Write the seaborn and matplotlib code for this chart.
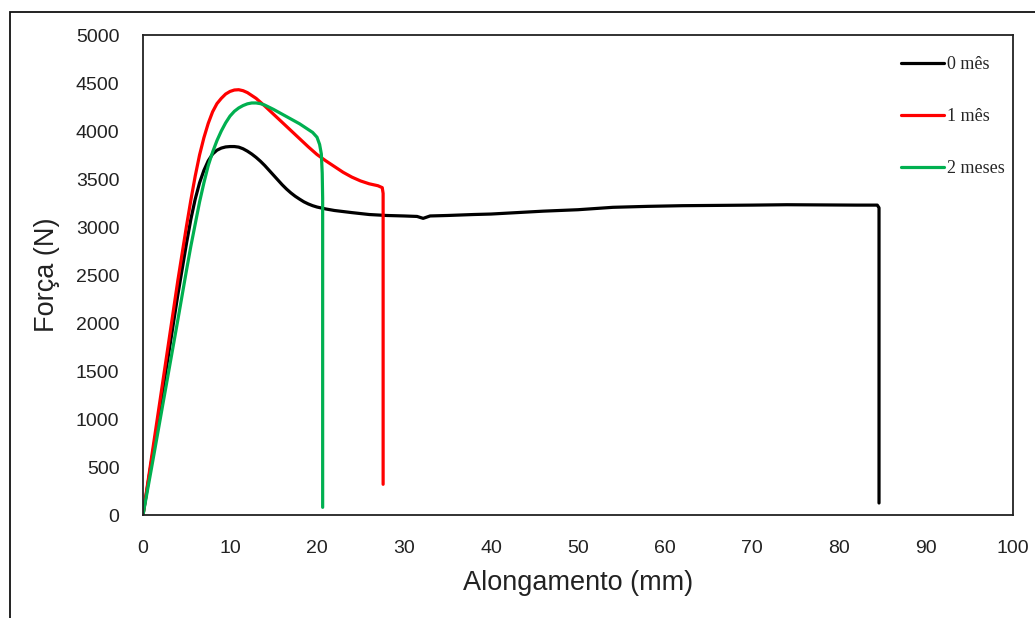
import numpy as np
import pandas as pd
import matplotlib
matplotlib.use("Agg")
import matplotlib.pyplot as plt
from matplotlib.patches import Rectangle
import seaborn as sns

# ---- data ----
labels = ["0 mês", "1 mês", "2 meses"]
colors = ["#000000", "#FF0000", "#00B050"]

x0 = [0, 1, 2, 3, 4, 5, 5.5, 6, 6.5, 7, 7.5, 8, 8.5, 9, 9.5, 10, 10.5, 11, 11.5, 12, 12.5,
      13, 13.5, 14, 14.5, 15, 15.5, 16, 16.5, 17, 17.5, 18, 18.5, 19, 19.5, 20, 21, 22,
      24, 26, 28, 30, 31.5, 32.2, 33, 35, 38, 40, 43, 46, 50, 54, 58, 62, 66, 70, 74,
      78, 82, 84.4, 84.6, 84.6]
y0 = [0, 570, 1140, 1710, 2290, 2830, 3080, 3290, 3460, 3590, 3690, 3760, 3800, 3822, 3834,
      3838, 3838, 3832, 3815, 3790, 3760, 3725, 3685, 3640, 3590, 3540, 3490, 3440, 3395,
      3355, 3320, 3290, 3262, 3240, 3222, 3208, 3188, 3172, 3150, 3130, 3120, 3115, 3110,
      3090, 3115, 3120, 3130, 3135, 3150, 3165, 3180, 3205, 3215, 3222, 3225, 3228, 3232,
      3230, 3228, 3228, 3200, 125]

x1 = [0, 1, 2, 3, 4, 5, 5.5, 6, 6.5, 7, 7.5, 8, 8.5, 9, 9.5, 10, 10.5, 11, 11.5, 12, 13, 14,
      15, 16, 17, 18, 19, 20, 21, 22, 23, 24, 25, 26, 27, 27.5, 27.6, 27.6]
y1 = [0, 610, 1220, 1830, 2440, 3010, 3280, 3530, 3750, 3930, 4080, 4200, 4285, 4340, 4385,
      4412, 4427, 4430, 4420, 4400, 4340, 4260, 4175, 4090, 4005, 3920, 3835, 3755, 3690,
      3630, 3570, 3520, 3480, 3450, 3430, 3410, 3350, 320]

x2 = [0, 1, 2, 3, 4, 5, 5.5, 6, 6.5, 7, 7.5, 8, 8.5, 9, 9.5, 10, 10.5, 11, 11.5, 12, 12.5,
      13, 13.5, 14, 15, 16, 17, 18, 19, 19.5, 20, 20.3, 20.5, 20.6, 20.65, 20.65]
y2 = [0, 500, 1010, 1520, 2030, 2550, 2800, 3030, 3260, 3460, 3640, 3780, 3900, 4000, 4085,
      4155, 4205, 4240, 4265, 4283, 4292, 4292, 4285, 4270, 4225, 4175, 4125, 4075, 4015,
      3985, 3935, 3860, 3760, 3560, 3300, 80]

xticks = list(range(0, 101, 10))
yticks = list(range(0, 5001, 500))

frames = []
for lab, xs, ys in zip(labels, [x0, x1, x2], [y0, y1, y2]):
    frames.append(pd.DataFrame({"x": xs, "y": ys, "serie": lab}))
df = pd.concat(frames, ignore_index=True)

sns.set_theme(style="white")
plt.rcParams["font.family"] = ["Liberation Sans", "DejaVu Sans"]

fig = plt.figure(figsize=(10.35, 6.18), dpi=100)
ax = fig.add_axes([143 / 1035, 1 - 515 / 618, (1013 - 143) / 1035, (515 - 35) / 618])

sns.lineplot(data=df, x="x", y="y", hue="serie", palette=dict(zip(labels, colors)),
             sort=False, estimator=None, linewidth=2.3, ax=ax)

ax.set_xlim(0, 100)
ax.set_ylim(0, 5000)
ax.set_xticks(xticks)
ax.set_yticks(yticks)
ax.tick_params(axis="both", length=0, labelsize=14, colors="#222222")
ax.tick_params(axis="y", pad=17)
ax.tick_params(axis="x", pad=18)
ax.set_xlabel("Alongamento (mm)", fontsize=19.5, color="#222222", labelpad=9)
ax.set_ylabel("Força (N)", fontsize=19.5, color="#222222", labelpad=11)
for s in ax.spines.values():
    s.set_visible(True)
    s.set_color("#222222")
    s.set_linewidth(1.3)

leg = ax.legend(loc="upper left", bbox_to_anchor=(892 / 1035, 1 - 47 / 618),
                bbox_transform=fig.transFigure, frameon=False, borderpad=0,
                handlelength=2.4, handletextpad=0.15, labelspacing=1.95,
                prop={"family": "Liberation Serif", "size": 13})
for line in leg.get_lines():
    line.set_linewidth(2.3)

# outer frame around the figure
fig.patches.append(Rectangle((10 / 1035, -0.1), 1.2, 1 - 12 / 618 + 0.1,
                             transform=fig.transFigure, fill=False,
                             edgecolor="#111111", linewidth=1.3))

fig.savefig("out.png", dpi=100)
